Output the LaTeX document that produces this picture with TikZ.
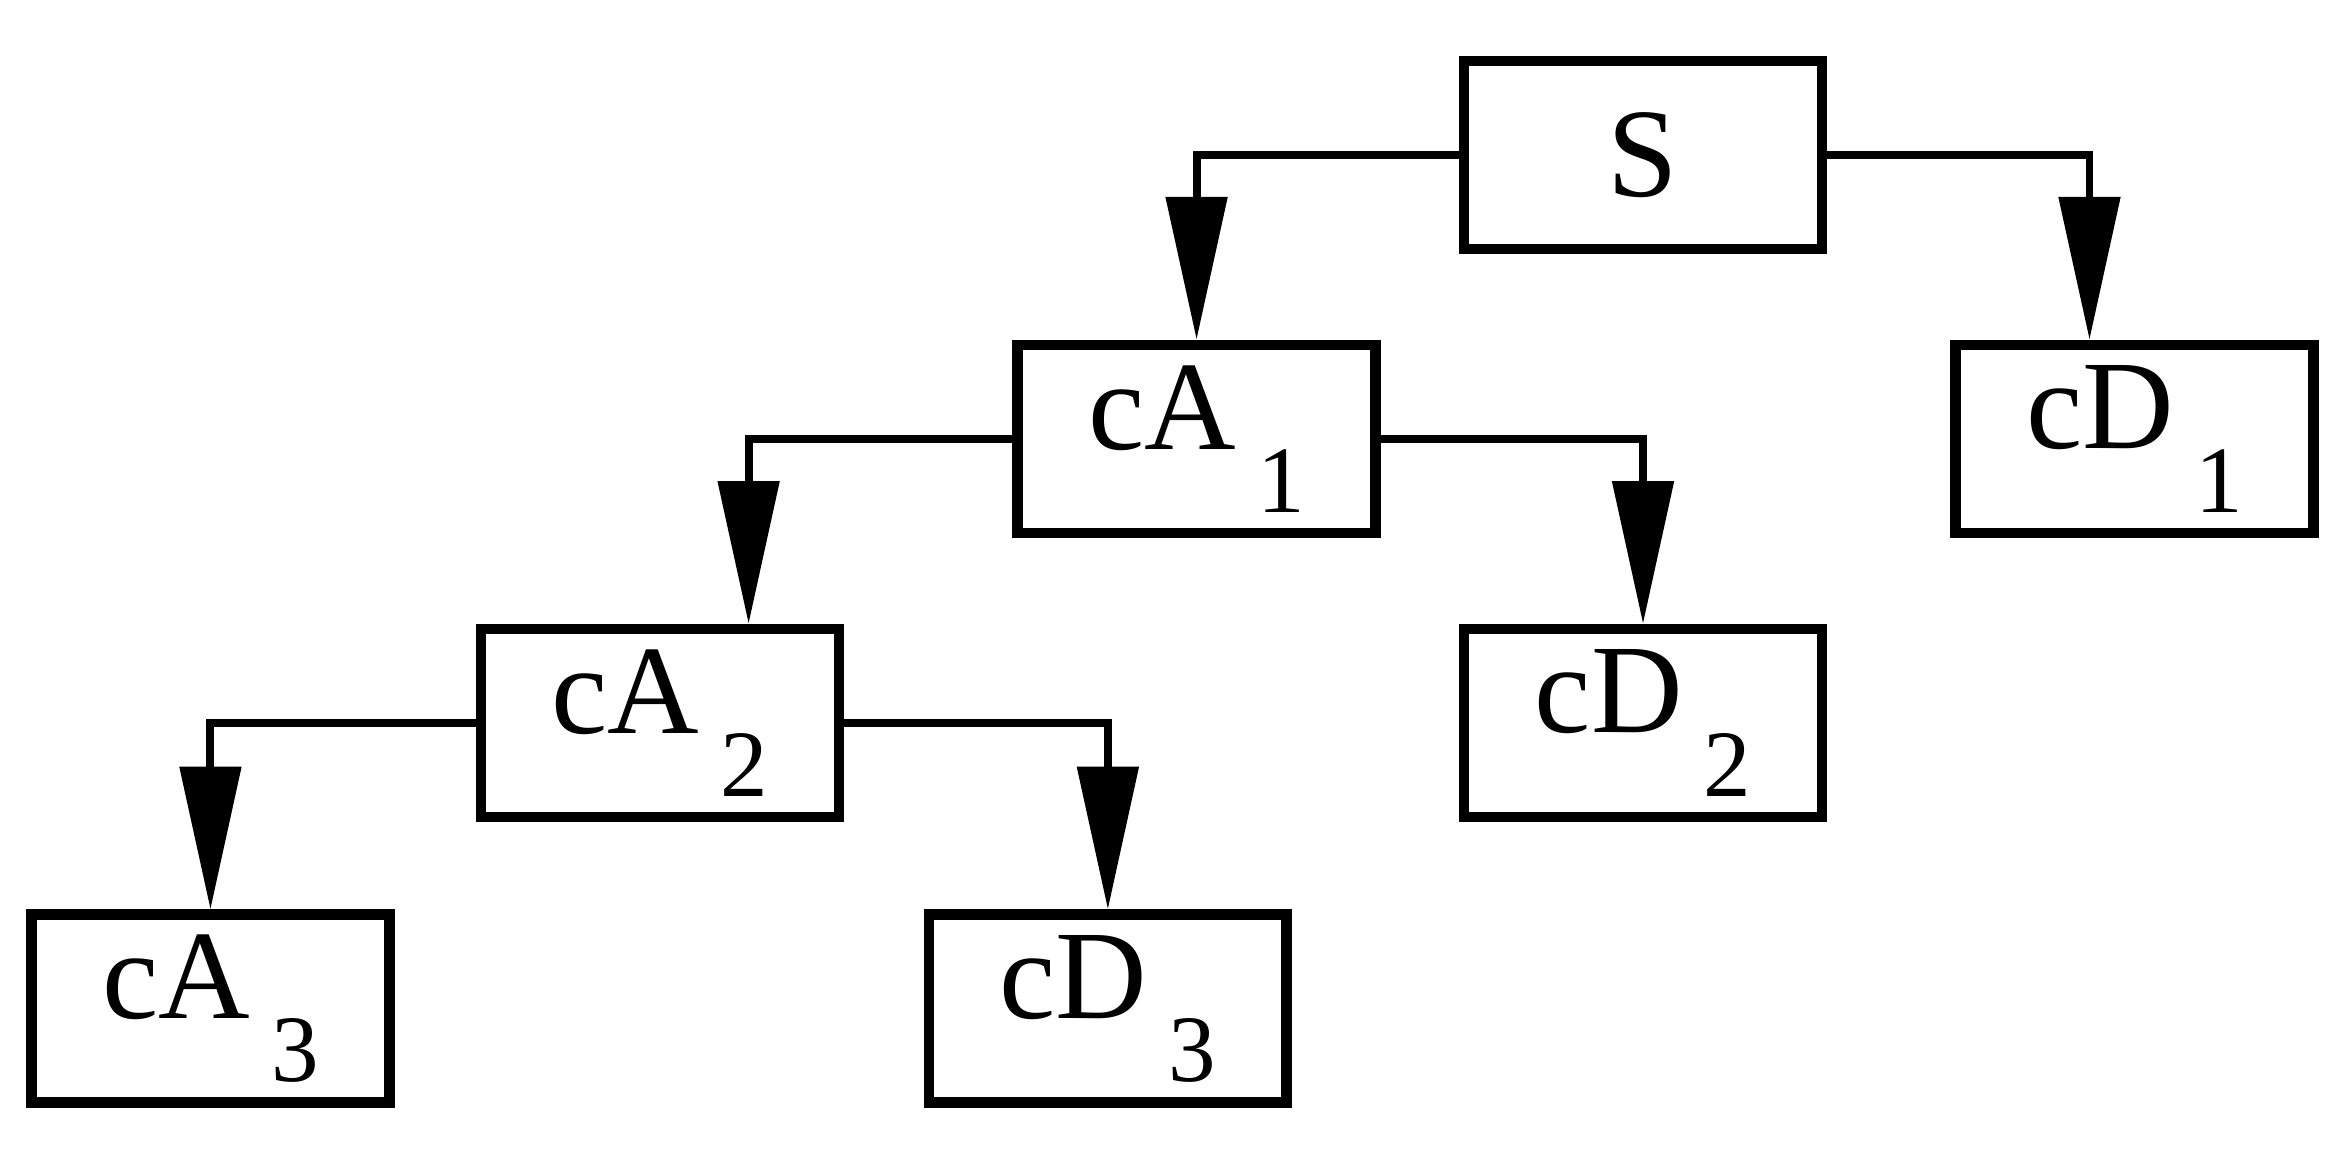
\documentclass[tikz,border=0pt]{standalone}
\usepackage{fontspec}
\setmainfont{Liberation Serif}
\usetikzlibrary{arrows.meta}
\tikzstyle{block}=[draw, line width=2pt, minimum width=2.38cm, minimum height=1.25cm, inner sep=0pt, font=\fontsize{24}{26}\selectfont]
\tikzstyle{arrow}=[draw=black, line width=1.5pt, -{Triangle[length=0.95cm, width=0.4cm]}]
\newcommand{\lbl}[2]{#1\,\raisebox{-0.5em}{\fontsize{18}{19}\selectfont #2}}
\begin{document}
\begin{tikzpicture}
		   \useasboundingbox (0,0) rectangle (15.60,-7.67);
		   \begin{scope}
			   \node (S) at (10.93, -1.03)[block] {S};
			   \node (cA1) at (7.96, -2.92)[block] {\lbl{cA}{1}};
			   \node (cD1) at (14.20, -2.92)[block] {\lbl{cD}{1}};
			   \node (cA2) at (4.39, -4.81)[block] {\lbl{cA}{2}};
			   \node (cD2) at (10.93, -4.81)[block] {\lbl{cD}{2}};
			   \node (cA3) at (1.40, -6.71)[block] {\lbl{cA}{3}};
			   \node (cD3) at (7.37, -6.71)[block] {\lbl{cD}{3}};
		   \end{scope}
		   \begin{scope}
			   \path [arrow] (S.west) -| (cA1.north);
			   \path [arrow] (S.east) -| ([xshift=-0.3cm]cD1.north);
			   \path [arrow] (cA1.west) -| ([xshift=0.59cm]cA2.north);
			   \path [arrow] (cA1.east) -| (cD2.north);
			   \path [arrow] (cA2.west) -| (cA3.north);
			   \path [arrow] (cA2.east) -| (cD3.north);
		   \end{scope}
	   \end{tikzpicture}
\end{document}
